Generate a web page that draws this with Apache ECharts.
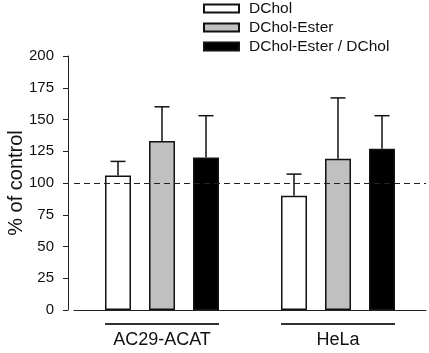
<!DOCTYPE html>
<html>
<head>
<meta charset="utf-8">
<script src="https://cdn.jsdelivr.net/npm/echarts@6/dist/echarts.min.js"></script>
<style>
  html, body { margin: 0; padding: 0; background: #fff; }
  #chart { width: 429px; height: 353px; }
</style>
</head>
<body>
<div id="chart"></div>
<script>
// 数据
var categories = ["AC29-ACAT", "HeLa"];
var seriesNames = ["DChol", "DChol-Ester", "DChol-Ester / DChol"];
var dcholValues = [106, 90];
var esterValues = [133, 119];
var ratioValues = [120, 127];
var dcholErr = [11, 17];
var esterErr = [27, 48];
var ratioErr = [33, 26];
var yTicks = [0, 200, 25]; // min, max, interval
var controlLevel = 100;

var font = "Liberation Sans, Arial, sans-serif";
var barW = 26;
var barGapPx = 18;

var myChart = echarts.init(document.getElementById("chart"));

// 误差线（只画上半部分）
function errorSeries(values, errs, idx) {
  return {
    type: "custom",
    name: seriesNames[idx] + " err",
    z: 5,
    silent: true,
    data: values.map(function (v, i) { return [i, v, v + errs[i]]; }),
    renderItem: function (params, api) {
      var base = api.coord([api.value(0), api.value(1)]);
      var top = api.coord([api.value(0), api.value(2)]);
      var x = base[0] + (idx - 1) * (barW + barGapPx);
      var half = 7.5;
      var st = { stroke: "#111", lineWidth: 1.5 };
      return {
        type: "group",
        children: [
          { type: "line", shape: { x1: x, y1: base[1], x2: x, y2: top[1] }, style: st },
          { type: "line", shape: { x1: x - half, y1: top[1], x2: x + half, y2: top[1] }, style: st }
        ]
      };
    }
  };
}

var barBorder = { borderColor: "#111", borderWidth: 1.5 };

var option = {
  animation: false,
  grid: { left: 74, right: 3, top: 56, bottom: 43, outerBoundsMode: "none" },
  legend: {
    orient: "vertical",
    left: 203,
    top: 0,
    padding: 0,
    icon: "rect",
    itemWidth: 35,
    itemHeight: 8,
    itemGap: 2,
    data: seriesNames,
    textStyle: { fontFamily: font, fontSize: 15.5, color: "#111", lineHeight: 17, padding: [0, 0, 0, 5] }
  },
  xAxis: {
    type: "category",
    data: categories,
    axisLine: { lineStyle: { color: "#222", width: 1 } },
    axisTick: { show: false },
    axisLabel: {
      interval: 0,
      margin: 13,
      formatter: function (v) { return "{line| }\n{name|" + v + "}"; },
      rich: {
        line: { width: 114, height: 2, lineHeight: 2, fontSize: 1, backgroundColor: "#333" },
        name: { fontFamily: font, fontSize: 18, color: "#111", lineHeight: 30 }
      }
    }
  },
  yAxis: {
    type: "value",
    min: yTicks[0],
    max: yTicks[1],
    interval: yTicks[2],
    offset: 6,
    name: "% of control",
    nameLocation: "middle",
    nameGap: 42,
    nameMoveOverlap: false,
    nameTextStyle: { fontFamily: font, fontSize: 20, color: "#111" },
    axisLine: { show: true, lineStyle: { color: "#222", width: 1 } },
    axisTick: { show: true, length: 5, lineStyle: { color: "#222" } },
    axisLabel: { fontFamily: font, fontSize: 15, color: "#111", margin: 14 },
    splitLine: { show: false }
  },
  series: [
    {
      name: seriesNames[0],
      type: "bar",
      data: dcholValues,
      barWidth: barW,
      barGap: (barGapPx / barW * 100) + "%",
      itemStyle: Object.assign({ color: "#ffffff" }, barBorder),
      markLine: {
        silent: true,
        symbol: "none",
        label: { show: false },
        lineStyle: { color: "#222", width: 1, type: [6, 4] },
        data: [{ yAxis: controlLevel }]
      }
    },
    {
      name: seriesNames[1],
      type: "bar",
      data: esterValues,
      barWidth: barW,
      itemStyle: Object.assign({ color: "#c0c0c0" }, barBorder)
    },
    {
      name: seriesNames[2],
      type: "bar",
      data: ratioValues,
      barWidth: barW,
      itemStyle: Object.assign({ color: "#000000" }, barBorder)
    },
    errorSeries(dcholValues, dcholErr, 0),
    errorSeries(esterValues, esterErr, 1),
    errorSeries(ratioValues, ratioErr, 2)
  ]
};
option && myChart.setOption(option);
</script>
</body>
</html>
